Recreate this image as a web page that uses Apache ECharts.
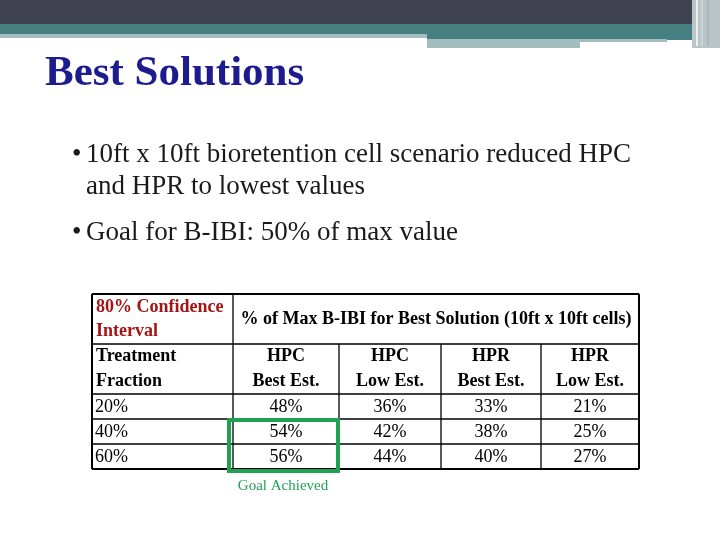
<!DOCTYPE html><html><head><meta charset="utf-8">
<script src="https://cdn.jsdelivr.net/npm/echarts@6/dist/echarts.min.js"></script>
<style>html,body{margin:0;padding:0;background:#fff}#c{width:720px;height:540px}</style></head><body><div id="c"></div>
<script>
var title = 'Best Solutions';
var bullets = [['10ft x 10ft bioretention cell scenario reduced HPC','and HPR to lowest values'],['Goal for B-IBI: 50% of max value']];
var corner = ['80% Confidence','Interval'];
var spanHeader = '% of Max B-IBI for Best Solution (10ft x 10ft cells)';
var rowHeader = ['Treatment','Fraction'];
var columns = [['HPC','Best Est.'],['HPC','Low Est.'],['HPR','Best Est.'],['HPR','Low Est.']];
var fractions = ['20%','40%','60%'];
var hpcBest = [48,54,56];
var hpcLow = [36,42,44];
var hprBest = [33,38,40];
var hprLow = [21,25,27];
var goalNote = 'Goal Achieved';

var chart = echarts.init(document.getElementById('c'));
var serif = '"Liberation Serif","DejaVu Serif",serif';
var g = [];
function rect(x,y,w,h,fill){g.push({type:'rect',shape:{x:x,y:y,width:w,height:h},style:{fill:fill}});}
function line(x1,y1,x2,y2,c,w){g.push({type:'line',shape:{x1:x1,y1:y1,x2:x2,y2:y2},style:{stroke:c,lineWidth:w||1}});}
function text(s,x,y,o){g.push({type:'text',x:x,y:y,style:Object.assign({text:s,font:'18px '+serif,fill:'#000',textVerticalAlign:'middle'},o||{})});}
rect(0,0,720,24,'#41424f');
rect(0,24,720,10,'#467f82');
rect(0,34,427,4,'#a3bcbe');
rect(427,34,280,6,'#467f82');
rect(427,39,240,3,'#a3bcbe');
rect(427,42,153,6,'#a3bcbe');
rect(692,0,28,48,'#b8c4c6');
line(697,0,697,46,'#ffffff',1.5);line(702,0,702,46,'#dfe6e6',1);line(708,0,708,46,'#9aa8aa',1);
text(title,45,74,{font:'bold 43px '+serif,fill:'#1c1c8e'});
var bf='27px '+serif;
text('•',72,155,{font:bf,fill:'#1a1a1a'});
text(bullets[0][0],86,155,{font:bf,fill:'#1a1a1a'});
text(bullets[0][1],86,187,{font:bf,fill:'#1a1a1a'});
text('•',72,233,{font:bf,fill:'#1a1a1a'});
text(bullets[1][0],86,233,{font:bf,fill:'#1a1a1a'});
var xs=[92,233,339,441,541,639], ys=[294,344,394,419,444,469];
ys.forEach(function(y,i){line(92,y,639,y,'#000',i==0||i==5?2:1.3);});
line(92,294,92,469,'#000',2);line(639,294,639,469,'#000',2);
line(233,294,233,469,'#000',1.3);
for(var i=2;i<5;i++) line(xs[i],344,xs[i],469,'#000',1.3);
var hb='bold 18px '+serif;
text(corner[0],96,307,{font:hb,fill:'#a31515'});
text(corner[1],96,331,{font:hb,fill:'#a31515'});
text(spanHeader,436,319,{font:hb,textAlign:'center'});
text(rowHeader[0],96,356,{font:hb});
text(rowHeader[1],96,381,{font:hb});
columns.forEach(function(c,i){var cx=(xs[i+1]+xs[i+2])/2;
 text(c[0],cx,356,{font:hb,textAlign:'center'});
 text(c[1],cx,381,{font:hb,textAlign:'center'});});
var series=[hpcBest,hpcLow,hprBest,hprLow];
fractions.forEach(function(f,r){var cy=(ys[r+2]+ys[r+3])/2+1;
 text(f,95,cy,{});
 series.forEach(function(s,i){text(s[r]+'%',(xs[i+1]+xs[i+2])/2,cy,{textAlign:'center'});});});
g.push({type:'rect',shape:{x:229,y:420,width:109,height:51},style:{fill:'none',stroke:'#1fa252',lineWidth:4}});
text(goalNote,283,486,{font:'15px '+serif,fill:'#1fa252',textAlign:'center'});
chart.setOption({animation:false,graphic:{elements:g}});
</script></body></html>
